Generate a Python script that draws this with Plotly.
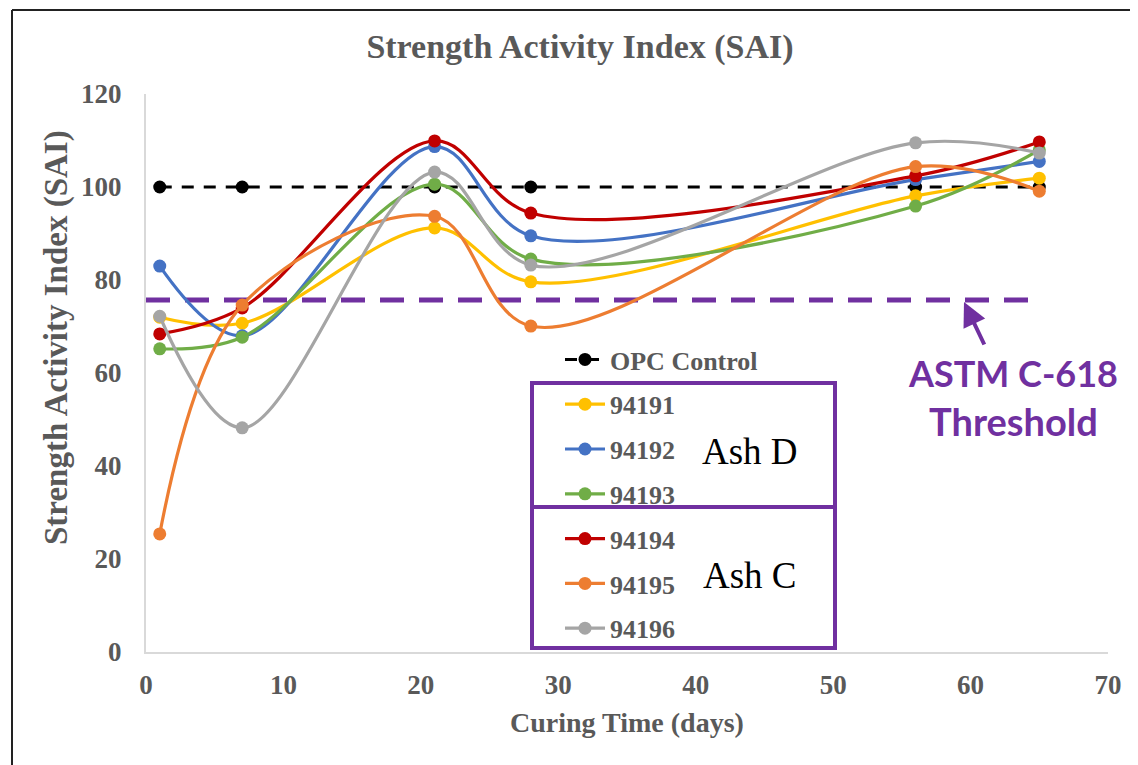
import plotly.graph_objects as go

# ---- data ----
days = [1, 7, 21, 28, 56, 65]
opc_control = [100, 100, 100, 100, 100, 100]
s94191 = [72.0, 70.7, 91.2, 79.6, 98.1, 101.9]
s94192 = [83.0, 68.0, 108.7, 89.5, 101.6, 105.5]
s94193 = [65.2, 67.7, 100.6, 84.5, 95.9, 108.0]
s94194 = [68.4, 74.0, 109.9, 94.4, 102.4, 109.7]
s94195 = [25.4, 74.6, 93.7, 70.1, 104.4, 99.1]
s94196 = [72.2, 48.2, 103.2, 83.2, 109.5, 107.3]

series_names = ["94191", "94192", "94193", "94194", "94195", "94196"]
series_values = [s94191, s94192, s94193, s94194, s94195, s94196]
series_colors = ["#FFC000", "#4472C4", "#70AD47", "#C00000", "#ED7D31", "#A5A5A5"]

threshold_value = 75.7
threshold_span = [0, 64.5]

x_ticks = [0, 10, 20, 30, 40, 50, 60, 70]
y_ticks = [0, 20, 40, 60, 80, 100, 120]

PURPLE = "#7030A0"
GRAY_TXT = "#595959"
SERIF = "Liberation Serif, Times New Roman, serif"

fig = go.Figure()

# threshold line
fig.add_trace(go.Scatter(
    x=threshold_span, y=[threshold_value, threshold_value], mode="lines",
    line=dict(color=PURPLE, width=5, dash="24px,15px"),
    showlegend=False, hoverinfo="skip"))

# OPC control
fig.add_trace(go.Scatter(
    x=days, y=opc_control, name="OPC Control", mode="lines+markers",
    line=dict(color="black", width=3, dash="12px,10px"),
    marker=dict(color="black", size=13), legendgroup="g0"))

for i, (nm, vals, col) in enumerate(zip(series_names, series_values, series_colors)):
    fig.add_trace(go.Scatter(
        x=days, y=vals, name=nm, mode="lines+markers",
        line=dict(color=col, width=3.2, shape="spline", smoothing=1.0),
        marker=dict(color=col, size=13), legendgroup=f"g{i+1}"))

# reference-image pixel geometry of the plot area
RL, RR, RT, RB = 146, 1108, 94, 652
OFF = 8  # page body margin
W, H = 1138, 765


def px_x(p):
    return (p - RL) / (RR - RL)


def px_y(p):
    return (RB - p) / (RB - RT)


shapes = [
    dict(type="rect", xref="paper", yref="paper", x0=px_x(532), x1=px_x(835),
         y0=px_y(507), y1=px_y(383), line=dict(color=PURPLE, width=4)),
    dict(type="rect", xref="paper", yref="paper", x0=px_x(532), x1=px_x(835),
         y0=px_y(648), y1=px_y(507), line=dict(color=PURPLE, width=4)),
    dict(type="line", xref="paper", yref="paper", x0=px_x(12), x1=px_x(1150),
         y0=px_y(10), y1=px_y(10), line=dict(color="#222222", width=2)),
    dict(type="line", xref="paper", yref="paper", x0=px_x(12), x1=px_x(12),
         y0=px_y(10), y1=px_y(780), line=dict(color="#222222", width=2)),
]

annotations = [
    dict(text="Ash D", xref="paper", yref="paper", x=px_x(750), y=px_y(452),
         xanchor="center", yanchor="middle",
         showarrow=False, font=dict(family=SERIF, size=37, color="black")),
    dict(text="Ash C", xref="paper", yref="paper", x=px_x(750), y=px_y(575),
         xanchor="center", yanchor="middle",
         showarrow=False, font=dict(family=SERIF, size=37, color="black")),
    dict(text="<b>ASTM C-618</b>", xref="paper", yref="paper", x=px_x(1013), y=px_y(373),
         xanchor="center", yanchor="middle",
         showarrow=False, font=dict(family="Lato, sans-serif", size=36, color=PURPLE)),
    dict(text="<b>Threshold</b>", xref="paper", yref="paper", x=px_x(1013), y=px_y(421),
         xanchor="center", yanchor="middle",
         showarrow=False, font=dict(family="Lato, sans-serif", size=38, color=PURPLE)),
    dict(text="", xref="paper", yref="paper", x=px_x(964), y=px_y(302),
         showarrow=True, ax=21, ay=44, arrowhead=2, arrowsize=1.2, arrowwidth=4,
         arrowcolor=PURPLE),
    # axis titles
    dict(text="<b>Strength Activity Index (SAI)</b>", xref="paper", yref="paper",
         x=px_x(56), y=px_y(338), xanchor="center", yanchor="middle", textangle=-90,
         showarrow=False, font=dict(family=SERIF, size=33, color=GRAY_TXT)),
    dict(text="<b>Curing Time (days)</b>", xref="paper", yref="paper",
         x=px_x(627), y=px_y(722), xanchor="center", yanchor="middle",
         showarrow=False, font=dict(family=SERIF, size=28, color=GRAY_TXT)),
]

fig.update_layout(
    width=W, height=H,
    margin=dict(l=RL - OFF, r=W - (RR - OFF), t=RT - OFF, b=H - (RB - OFF)),
    paper_bgcolor="white", plot_bgcolor="white",
    title=dict(text="<b>Strength Activity Index (SAI)</b>", x=(580 - OFF) / W,
               xanchor="center", y=1 - (46 - OFF) / H, yanchor="middle",
               font=dict(family=SERIF, size=34, color=GRAY_TXT)),
    xaxis=dict(range=[0, 70], tickvals=x_ticks, showgrid=False, zeroline=False,
               showline=True, linecolor="#D9D9D9", linewidth=2, ticks="",
               ticklabelstandoff=8,
               tickfont=dict(family=SERIF, size=27, color=GRAY_TXT, weight="bold")),
    yaxis=dict(range=[0, 120], tickvals=y_ticks, showgrid=False, zeroline=False,
               showline=True, linecolor="#D9D9D9", linewidth=2, ticks="",
               ticklabelstandoff=17,
               tickfont=dict(family=SERIF, size=27, color=GRAY_TXT, weight="bold")),
    legend=dict(x=px_x(560), y=px_y(336), xanchor="left", yanchor="top",
                bgcolor="rgba(0,0,0,0)", borderwidth=0,
                traceorder="grouped", tracegroupgap=8, itemwidth=40,
                font=dict(family=SERIF, size=26, color=GRAY_TXT, weight="bold")),
    shapes=shapes, annotations=annotations,
)

fig.write_html("out.html")
